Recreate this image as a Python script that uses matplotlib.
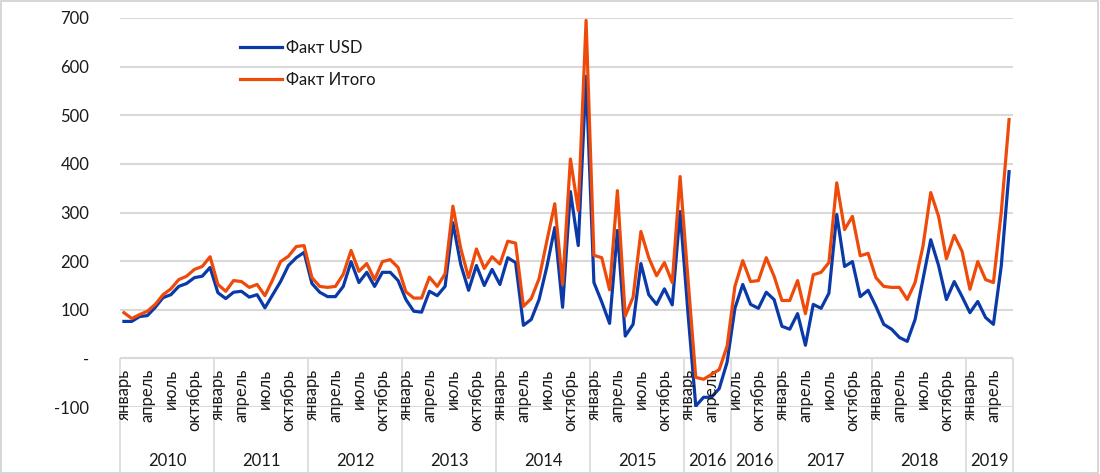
import matplotlib
matplotlib.use("Agg")
import matplotlib.pyplot as plt
import matplotlib.transforms as mtransforms
from matplotlib.patches import Rectangle
import numpy as np

# -------- data -------- #

month_names = ['январь', 'февраль', 'март', 'апрель', 'май', 'июнь',
               'июль', 'август', 'сентябрь', 'октябрь', 'ноябрь', 'декабрь']

# year groups on the category axis (2016 is split in two in the source)
group_years = ['2010', '2011', '2012', '2013', '2014', '2015',
               '2016', '2016', '2017', '2018', '2019']
group_sizes = [12, 12, 12, 12, 12, 12, 6, 6, 12, 12, 6]
group_first_month = [0, 0, 0, 0, 0, 0, 0, 6, 0, 0, 0]

fact_usd = [
    76, 76, 86, 88, 105, 125, 131, 148, 154, 166, 169, 187,
    135, 123, 136, 138, 126, 131, 104, 131, 158, 191, 207, 218,
    154, 136, 127, 127, 148, 199, 156, 177, 148, 177, 177, 160,
    121, 97, 95, 138, 129, 148, 279, 193, 140, 191, 150, 183,
    152, 207, 197, 68, 80, 121, 189, 269, 105, 343, 232, 580,
    156, 116, 72, 263, 46, 70, 195, 131, 111, 143, 110, 302,
    95, -98, -80, -80, -62, -8,
    103, 152, 111, 103, 136, 121,
    66, 60, 92, 27, 111, 103, 134, 296, 189, 199, 127, 140,
    107, 70, 60, 43, 35, 80, 162, 244, 191, 121, 158, 127,
    94, 117, 84, 70, 190, 384,
]

fact_total = [
    94, 82, 90, 97, 111, 131, 143, 162, 169, 183, 189, 209,
    152, 138, 160, 158, 146, 152, 129, 162, 199, 210, 230, 232,
    166, 148, 146, 148, 173, 222, 179, 195, 162, 199, 203, 187,
    137, 124, 124, 167, 148, 174, 313, 226, 166, 225, 185, 209,
    194, 241, 237, 107, 123, 164, 242, 318, 152, 410, 304, 695,
    212, 207, 141, 345, 87, 126, 261, 207, 170, 197, 156, 374,
    165, -39, -43, -33, -23, 25,
    148, 201, 158, 160, 207, 169,
    119, 119, 160, 92, 172, 177, 197, 361, 265, 292, 211, 216,
    166, 148, 146, 146, 121, 156, 230, 341, 292, 205, 253, 220,
    142, 199, 162, 156, 300, 491,
]

y_ticks = [-100, 0, 100, 200, 300, 400, 500, 600, 700]
y_tick_labels = ['-100', '-', '100', '200', '300', '400', '500', '600', '700']

# -------- plot -------- #

plt.rcParams['font.family'] = ['Lato', 'DejaVu Sans']
text_color = '#1a1a1a'
grid_color = '#d9d9d9'

fig = plt.figure(figsize=(11, 4.74), dpi=100)
ax = fig.add_axes([120 / 1100, 1 - 407 / 474, 893 / 1100, 389 / 474])

x = np.arange(len(fact_usd))
ax.plot(x, fact_usd, color='#0a3aa8', lw=2.3, label='Факт USD',
        solid_joinstyle='round', zorder=3)
ax.plot(x, fact_total, color='#ee4b0b', lw=2.3, label='Факт Итого',
        solid_joinstyle='round', zorder=4)

ax.set_xlim(-0.5, len(x) - 0.5)
ax.set_ylim(-100, 700)
ax.set_yticks(y_ticks)
ax.set_yticklabels(y_tick_labels)
ax.set_xticks([])
ax.tick_params(axis='y', length=0, pad=22, labelsize=12, labelcolor=text_color)
ax.grid(axis='y', color=grid_color, lw=1.5)
ax.set_axisbelow(True)
for s in ax.spines.values():
    s.set_visible(False)

# category axis: month labels, year groups, separators
trans = mtransforms.blended_transform_factory(ax.transData, fig.transFigure)
y_axis_line = 1 - 359 / 474
y_month = 1 - 369 / 474
y_year = 1 - 461 / 474

ax.axhline(0, color=grid_color, lw=1.5, zorder=1)

start = 0
for year, size, first in zip(group_years, group_sizes, group_first_month):
    for k in range(size):
        m = first + k
        if m % 3 == 0:
            ax.text(start + k, y_month, month_names[m], transform=trans,
                    rotation=90, ha='center', va='top', fontsize=12,
                    color=text_color)
    ax.text(start + size / 2 - 0.5, y_year, year, transform=trans,
            ha='center', va='center', fontsize=12, color=text_color)
    ax.plot([start - 0.5, start - 0.5], [y_axis_line, 0.004], transform=trans,
            color=grid_color, lw=1.2, clip_on=False)
    start += size
ax.plot([start - 0.5, start - 0.5], [y_axis_line, 0.004], transform=trans,
        color=grid_color, lw=1.2, clip_on=False)

ax.legend(loc='upper left', bbox_to_anchor=(240 / 1100, 1 - 40 / 474),
          bbox_transform=fig.transFigure, frameon=False, fontsize=12,
          handlelength=2.5, handletextpad=0.25, labelspacing=0.95,
          borderpad=0, borderaxespad=0, labelcolor=text_color)

fig.patches.append(Rectangle((0.001, 0.002), 0.997, 0.996, transform=fig.transFigure,
                             fill=False, edgecolor='#d0d0d0', lw=1.2))

fig.savefig('out.png', dpi=100)
